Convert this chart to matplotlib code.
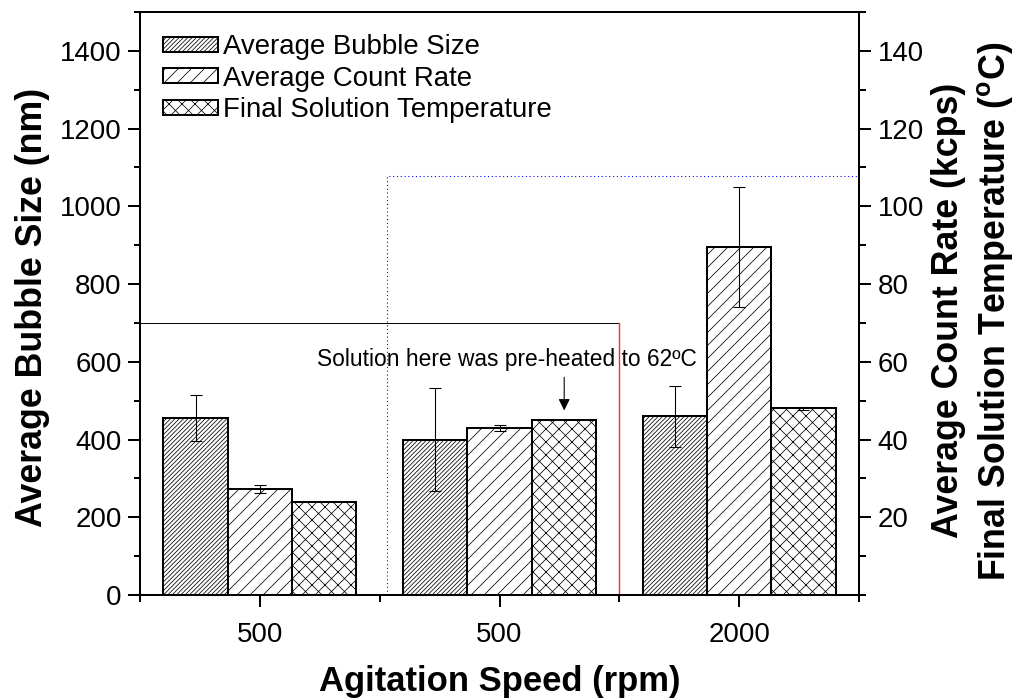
import numpy as np
import matplotlib
matplotlib.use('Agg')
import matplotlib.pyplot as plt
from matplotlib.ticker import MultipleLocator, FixedLocator

# values
speeds = ['500', '500', '2000']
bubble_size = [455, 400, 460]          # nm
bubble_err = [60, 133, 78]
count_rate = [27.3, 43.0, 89.6]        # kcps
count_err = [1.0, 0.8, 15.5]
temperature = [24.0, 45.0, 48.0]       # deg C
temp_err = [0.0, 0.0, 0.4]

plt.rcParams['font.family'] = ['Liberation Sans', 'DejaVu Sans']
plt.rcParams['mathtext.fontset'] = 'custom'
plt.rcParams['mathtext.rm'] = 'Liberation Sans'
plt.rcParams['mathtext.bf'] = 'Liberation Sans:bold'
plt.rcParams['hatch.linewidth'] = 0.7

DPI = 78
fig = plt.figure(figsize=(1017 / DPI, 700 / DPI), dpi=DPI)
ax = fig.add_axes([140 / 1017, 1 - 595 / 700, 719 / 1017, 583 / 700])
ax2 = ax.twinx()

x = np.arange(1, len(speeds) + 1)
w = 0.268
bar_kw = dict(facecolor='white', edgecolor='black', linewidth=1.85)
err_kw = dict(ecolor='black', elinewidth=1.0, capsize=5.5, capthick=1.0)

b1 = ax.bar(x - w, bubble_size, w, hatch='//////', label='Average Bubble Size',
            yerr=bubble_err, error_kw=err_kw, **bar_kw)
b2 = ax2.bar(x, count_rate, w, hatch='//', label='Average Count Rate',
             yerr=count_err, error_kw=err_kw, **bar_kw)
b3 = ax2.bar(x + w, temperature, w, hatch='xx', label='Final Solution Temperature',
             yerr=[t if t > 0 else np.nan for t in temp_err], error_kw=err_kw, **bar_kw)

ax.set_xlim(0.5, 3.5)
ax.set_ylim(0, 1500)
ax2.set_ylim(0, 150)

# guide lines
ax.plot([0.5, 2.5], [700, 700], color='black', lw=0.9)
ax.plot([2.5, 2.5], [0, 700], color='#ff2a2a', lw=1.3, zorder=5)
ax.plot([1.53, 1.53, 3.5], [0, 1077, 1077], color='blue', lw=1.0,
        linestyle=(0, (1, 2.5)))

ax2.annotate('', xy=(2.27, 47.5), xytext=(2.27, 56.0),
             arrowprops=dict(arrowstyle='-|>', color='black', lw=1.0,
                             mutation_scale=22, shrinkA=0, shrinkB=0))
ax2.text(2.03, 60.6, 'Solution here was pre-heated to 62ºC', fontsize=21,
         ha='center', va='center')

# ticks
ax.xaxis.set_major_locator(FixedLocator([1, 2, 3]))
ax.xaxis.set_minor_locator(FixedLocator([0.5, 1.5, 2.5, 3.5]))
ax.set_xticklabels(speeds)
ax.set_yticks(np.arange(0, 1401, 200))
ax.yaxis.set_minor_locator(MultipleLocator(100))
ax2.set_yticks(np.arange(20, 141, 20))
ax2.yaxis.set_minor_locator(MultipleLocator(10))
for a in (ax, ax2):
    a.tick_params(which='major', direction='out', length=11, width=1.85,
                  labelsize=25.5, pad=6)
    a.tick_params(which='minor', direction='out', length=6, width=1.85)
    for s in a.spines.values():
        s.set_linewidth(1.85)
ax.tick_params(axis='x', which='both', top=False)
ax.tick_params(axis='x', which='major', pad=14)
ax.tick_params(axis='y', which='both', right=False)
ax2.tick_params(axis='y', which='both', left=False)

ax.set_xlabel('Agitation Speed (rpm)', fontsize=32, fontweight='bold', labelpad=16)
fig.text(33 / 1017, 1 - 307 / 700, 'Average Bubble Size (nm)', fontsize=33,
         fontweight='bold', rotation=90, ha='center', va='center')
fig.text(948 / 1017, 1 - 310 / 700, 'Average Count Rate (kcps)', fontsize=33,
         fontweight='bold', rotation=90, ha='center', va='center')
fig.text(995 / 1017, 1 - 311 / 700,
         r'Final Solution Temperature ($^{\mathbf{o}}$C)', fontsize=33,
         fontweight='bold', rotation=90, ha='center', va='center')

leg = ax2.legend(handles=[b1, b2, b3], loc='upper left',
                 bbox_to_anchor=(0.032, 0.962), frameon=False, fontsize=25.5,
                 handlelength=2.0, handleheight=0.45, handletextpad=0.18,
                 labelspacing=0.2, borderpad=0, borderaxespad=0)

fig.savefig('out.png', dpi=DPI)
